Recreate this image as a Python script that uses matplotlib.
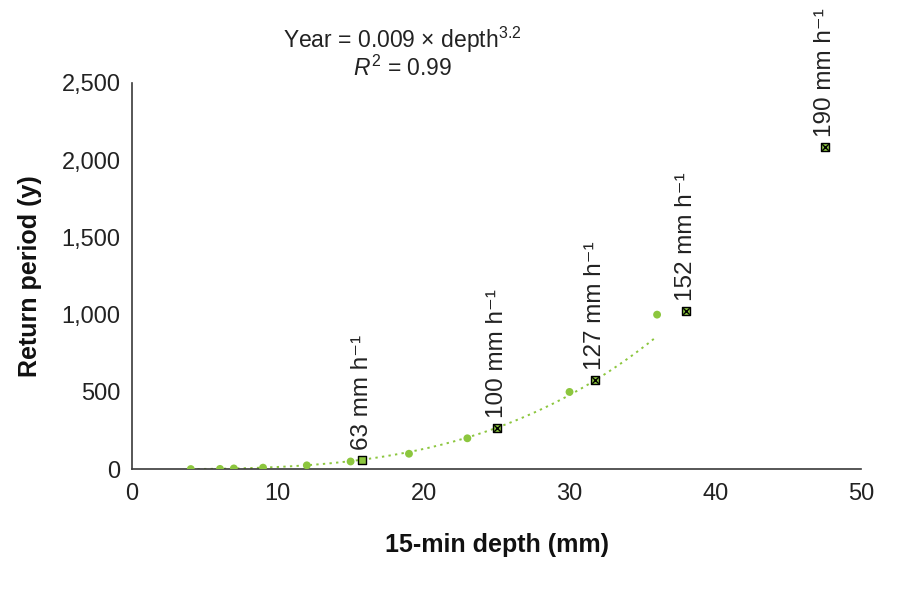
import numpy as np
import matplotlib
matplotlib.use("Agg")
import matplotlib.pyplot as plt
from matplotlib.ticker import FuncFormatter

plt.rcParams['font.family'] = ['Liberation Sans', 'DejaVu Sans']
plt.rcParams['mathtext.fontset'] = 'custom'
plt.rcParams['mathtext.rm'] = 'Liberation Sans'
plt.rcParams['mathtext.it'] = 'Liberation Sans:italic'

# Return-period points (15-min depth in mm, return period in years)
depth = [4.05, 6.05, 7.0, 9.0, 12.0, 15.0, 19.0, 23.0, 30.0, 36.0]
period = [1, 2, 5, 10, 25, 50, 100, 200, 500, 1000]

# Rainfall intensities marked on the chart
intensity = [63, 100, 127, 152, 190]
int_depth = [15.75, 25.0, 31.75, 38.0, 47.5]
int_period = [61, 268, 576, 1023, 2087]

# Power trendline shown on the chart: Year = a * depth^b
coef_a = 0.009
coef_b = 3.2

green = '#8cc63e'
dark = '#3a3a3a'
txt = '#222222'

fig = plt.figure(figsize=(9.02, 6.0), dpi=100)
ax = fig.add_axes([0.146, 0.218, 0.809, 0.644])

# trendline over the range of the dots
xs = np.linspace(min(depth), max(depth), 200)
ax.plot(xs, coef_a * xs ** coef_b, linestyle=(0, (1.2, 2.2)), color=green, lw=1.4, zorder=2)

ax.scatter(depth, period, s=32, color=green, edgecolors='none', zorder=3)

# squares for the intensities: the first is plain, the rest carry a cross
ax.scatter(int_depth, int_period, s=38, marker='s', facecolor=green,
           edgecolor='black', linewidths=1.0, zorder=4)
ax.scatter(int_depth[1:], int_period[1:], s=22, marker='x', color='black',
           linewidths=1.0, zorder=5)

for i, xd, yp in zip(intensity, int_depth, int_period):
    ax.annotate(f'{i} mm h\u207b\u00b9', (xd, yp), xytext=(0, 7), textcoords='offset points',
                rotation=90, ha='center', va='bottom', fontsize=17.5, color=txt)

ax.set_xlim(0, 50)
ax.set_ylim(0, 2500)
ax.set_xticks(np.arange(0, 51, 10))
ax.set_yticks(np.arange(0, 2501, 500))
ax.yaxis.set_major_formatter(FuncFormatter(lambda v, p: f'{int(v):,}'))
ax.tick_params(length=0, labelsize=17, colors=txt)
ax.tick_params(axis='x', pad=10)
ax.tick_params(axis='y', pad=8)

for s in ['top', 'right']:
    ax.spines[s].set_visible(False)
for s in ['left', 'bottom']:
    ax.spines[s].set_color(dark)
    ax.spines[s].set_linewidth(1.2)

ax.set_xlabel('15-min depth (mm)', fontsize=18, fontweight='bold', color='#111111', labelpad=20)
ax.set_ylabel('Return period (y)', fontsize=18, fontweight='bold', color='#111111', labelpad=14)

fig.text(0.446, 0.933, 'Year = 0.009 \u00d7 depth$^{3.2}$', ha='center', va='center',
         fontsize=16.5, color=txt)
fig.text(0.446, 0.886, '$R^2$ = 0.99', ha='center', va='center', fontsize=16.5, color=txt)

fig.savefig('out.png', dpi=100)
